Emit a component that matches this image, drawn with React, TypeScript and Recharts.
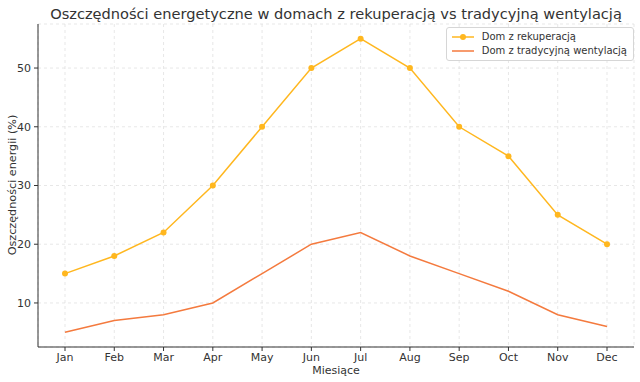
import { LineChart, Line, XAxis, YAxis, CartesianGrid, Label } from "recharts";

const months = ["Jan", "Feb", "Mar", "Apr", "May", "Jun", "Jul", "Aug", "Sep", "Oct", "Nov", "Dec"];
const rekuperacja = [15, 18, 22, 30, 40, 50, 55, 50, 40, 35, 25, 20];
const tradycyjna = [5, 7, 8, 10, 15, 20, 22, 18, 15, 12, 8, 6];
const yTicks = [10, 20, 30, 40, 50];

const data = months.map((m, i) => ({ month: m, rek: rekuperacja[i], trad: tradycyjna[i] }));

const C1 = "#FFB71F";
const C2 = "#F47A3E";
const FONT = "DejaVu Sans, sans-serif";

const legendItems = [
  { label: "Dom z rekuperacją", color: C1, dot: true },
  { label: "Dom z tradycyjną wentylacją", color: C2, dot: false },
];

const LegendBox = () => (
  <div
    style={{
      position: "absolute",
      top: 27,
      right: 6,
      border: "1px solid #d6d6d6",
      borderRadius: 3,
      background: "#fff",
      padding: "2px 6px 2px 4px",
      fontFamily: FONT,
      fontSize: 10,
      color: "#333",
      lineHeight: "14px",
    }}
  >
    {legendItems.map((it) => (
      <div key={it.label} style={{ display: "flex", alignItems: "center" }}>
        <svg width={24} height={10} style={{ marginRight: 7 }}>
          <line x1={1} y1={5} x2={23} y2={5} stroke={it.color} strokeWidth={1.5} />
          {it.dot && <circle cx={12} cy={5} r={3} fill={it.color} />}
        </svg>
        <span>{it.label}</span>
      </div>
    ))}
  </div>
);

export default function App() {
  return (
    <div style={{ position: "absolute", left: 0, top: 0, width: 640, height: 382, background: "#fff", fontFamily: FONT }}>
      <LineChart width={640} height={382} data={data} margin={{ top: 24, right: 6, bottom: 0, left: 0 }}>
        <text x={336} y={19} textAnchor="middle" fontSize={14.6} fill="#333" fontFamily={FONT}>
          Oszczędności energetyczne w domach z rekuperacją vs tradycyjną wentylacją
        </text>
        <text
          x={16}
          y={185}
          transform="rotate(-90 16 185)"
          textAnchor="middle"
          fontSize={11.2}
          fill="#333"
          fontFamily={FONT}
        >
          Oszczędności energii (%)
        </text>
        <CartesianGrid stroke="#dcdcdc" strokeDasharray="3 3" strokeWidth={0.7} />
        <XAxis
          dataKey="month"
          padding={{ left: 27, right: 27 }}
          height={35}
          tickLine={{ stroke: "#333" }}
          tickSize={4}
          axisLine={{ stroke: "#333" }}
          tick={{ fill: "#333", fontSize: 11, fontFamily: FONT }}
          tickMargin={2}
        >
          <Label value="Miesiące" position="insideBottom" offset={8} fill="#333" fontSize={11} fontFamily={FONT} />
        </XAxis>
        <YAxis
          width={38}
          type="number"
          domain={[2.5, 57.5]}
          ticks={yTicks}
          allowDataOverflow
          tickLine={{ stroke: "#333" }}
          tickSize={4}
          axisLine={{ stroke: "#333" }}
          tick={{ fill: "#333", fontSize: 11, fontFamily: FONT }}
          tickMargin={3}
        />
        <Line
          dataKey="rek"
          stroke={C1}
          strokeWidth={1.5}
          dot={{ r: 3, fill: C1, stroke: C1, strokeWidth: 0 }}
          isAnimationActive={false}
        />
        <Line dataKey="trad" stroke={C2} strokeWidth={1.5} dot={false} isAnimationActive={false} />
      </LineChart>
      <LegendBox />
    </div>
  );
}
